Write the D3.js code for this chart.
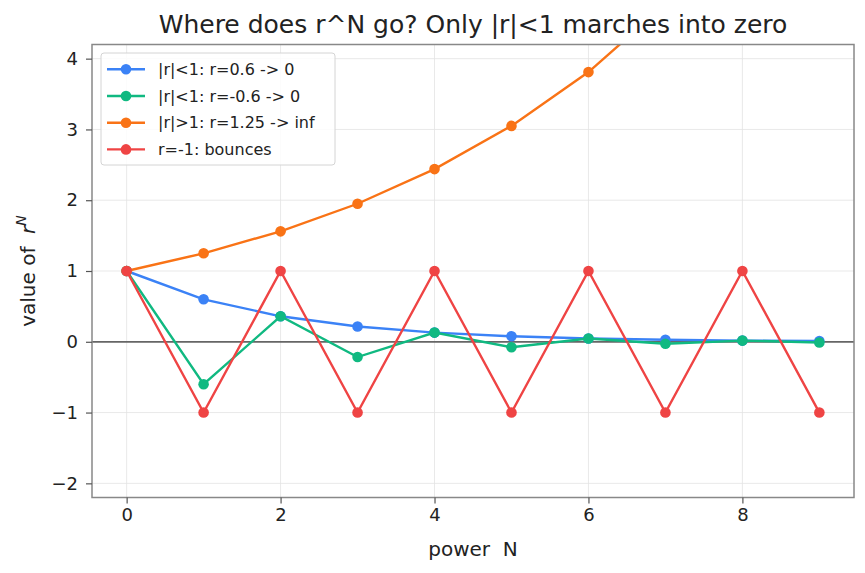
<!doctype html>
<html lang="en">
<head>
<meta charset="utf-8">
<title>Where does r^N go?</title>
<style>
  body { margin: 0; background: #fff; }
  text { font-family: "DejaVu Sans", sans-serif; fill: #222; }
</style>
</head>
<body>
<div id="mychart"></div>
<script src="https://d3js.org/d3.v7.min.js"></script>
<script>
var width = 865;
var height = 573;
var margin = {top: 44.5, right: 11, bottom: 75.5, left: 92};

// powers N
var powers = [0, 1, 2, 3, 4, 5, 6, 7, 8, 9];
// values
var shrinkPos = [1, 0.6, 0.36, 0.216, 0.13, 0.078, 0.047, 0.028, 0.017, 0.01];
var shrinkNeg = [1, -0.6, 0.36, -0.216, 0.13, -0.078, 0.047, -0.028, 0.017, -0.01];
var grow = [1, 1.25, 1.56, 1.95, 2.44, 3.05, 3.81, 4.77, 5.96, 7.45];
var bounce = [1, -1, 1, -1, 1, -1, 1, -1, 1, -1];

var seriesNames = ["|r|<1: r=0.6 -> 0", "|r|<1: r=-0.6 -> 0", "|r|>1: r=1.25 -> inf", "r=-1: bounces"];
var seriesColors = ["#3b82f6", "#10b981", "#f97316", "#ef4444"];
var seriesValues = [shrinkPos, shrinkNeg, grow, bounce];

var xTicks = [0, 2, 4, 6, 8];
var yTicks = [-2, -1, 0, 1, 2, 3, 4];

var svg = d3.select("#mychart").append("svg")
  .attr("width", width)
  .attr("height", height);

var x = d3.scaleLinear()
  .domain([-0.45, 9.45])
  .range([margin.left, width - margin.right]);

var y = d3.scaleLinear()
  .domain([-2.2, 4.2])
  .range([height - margin.bottom, margin.top]);

// grid
svg.append("g").selectAll("line").data(xTicks).enter().append("line")
  .attr("x1", function(d) { return x(d); })
  .attr("x2", function(d) { return x(d); })
  .attr("y1", margin.top)
  .attr("y2", height - margin.bottom)
  .attr("stroke", "#e3e3e3")
  .attr("stroke-width", 0.8);
svg.append("g").selectAll("line").data(yTicks).enter().append("line")
  .attr("x1", margin.left)
  .attr("x2", width - margin.right)
  .attr("y1", function(d) { return y(d); })
  .attr("y2", function(d) { return y(d); })
  .attr("stroke", "#e3e3e3")
  .attr("stroke-width", 0.8);

svg.append("clipPath").attr("id", "plotclip")
  .append("rect")
  .attr("x", margin.left)
  .attr("y", margin.top)
  .attr("width", width - margin.left - margin.right)
  .attr("height", height - margin.top - margin.bottom);

// zero line
svg.append("line")
  .attr("x1", margin.left)
  .attr("x2", width - margin.right)
  .attr("y1", y(0))
  .attr("y2", y(0))
  .attr("stroke", "#666")
  .attr("stroke-width", 1.7);

var line = d3.line()
  .x(function(d, i) { return x(powers[i]); })
  .y(function(d) { return y(d); });

var plot = svg.append("g").attr("clip-path", "url(#plotclip)");

seriesValues.forEach(function(vals, k) {
  plot.append("path")
    .datum(vals)
    .attr("d", line)
    .attr("fill", "none")
    .attr("stroke", seriesColors[k])
    .attr("stroke-width", 2.4);
  plot.selectAll(".pt" + k).data(vals).enter()
    .append("circle")
    .attr("class", "pt" + k)
    .attr("r", 5.3)
    .attr("cx", function(d, i) { return x(powers[i]); })
    .attr("cy", function(d) { return y(d); })
    .attr("fill", seriesColors[k]);
});

// frame
svg.append("rect")
  .attr("x", margin.left)
  .attr("y", margin.top)
  .attr("width", width - margin.left - margin.right)
  .attr("height", height - margin.top - margin.bottom)
  .attr("fill", "none")
  .attr("stroke", "#888")
  .attr("stroke-width", 1.5);

// axes
var fmt = function(d) { return d < 0 ? "\u2212" + Math.abs(d) : String(d); };

var xAxis = svg.append("g")
  .attr("transform", "translate(0," + (height - margin.bottom) + ")")
  .call(d3.axisBottom(x).tickValues(xTicks).tickSize(6).tickPadding(5).tickFormat(fmt));
var yAxis = svg.append("g")
  .attr("transform", "translate(" + margin.left + ",0)")
  .call(d3.axisLeft(y).tickValues(yTicks).tickSize(6).tickPadding(8).tickFormat(fmt));

[xAxis, yAxis].forEach(function(a) {
  a.select(".domain").remove();
  a.selectAll(".tick line").attr("stroke", "#555").attr("stroke-width", 1.2);
  a.selectAll(".tick text").style("font-size", "18px").attr("fill", "#222");
});

// title and labels
svg.append("text")
  .attr("x", (margin.left + width - margin.right) / 2)
  .attr("y", 33)
  .attr("text-anchor", "middle")
  .style("font-size", "25px")
  .text("Where does r^N go? Only |r|<1 marches into zero");

svg.append("text")
  .attr("x", (margin.left + width - margin.right) / 2)
  .attr("y", 556)
  .attr("text-anchor", "middle")
  .style("font-size", "20px")
  .attr("xml:space", "preserve")
  .text("power  N");

var yl = svg.append("text")
  .attr("transform", "translate(35," + ((margin.top + height - margin.bottom) / 2) + ") rotate(-90)")
  .attr("text-anchor", "middle")
  .attr("xml:space", "preserve")
  .style("font-size", "20px");
yl.append("tspan").text("value of  ");
yl.append("tspan").text("r").style("font-style", "italic");
yl.append("tspan").text("N").style("font-style", "italic").style("font-size", "14px").attr("dy", -9);

// legend
var legend = svg.append("g");
legend.append("rect")
  .attr("x", 101)
  .attr("y", 53)
  .attr("width", 234)
  .attr("height", 112)
  .attr("rx", 3)
  .attr("fill", "#fff")
  .attr("fill-opacity", 0.85)
  .attr("stroke", "#d4d4d4")
  .attr("stroke-width", 1);

var rows = legend.selectAll("g.row").data(seriesNames).enter().append("g")
  .attr("class", "row")
  .attr("transform", function(d, i) { return "translate(0," + (69.3 + i * 26.7) + ")"; });
rows.append("line")
  .attr("x1", 107).attr("x2", 145)
  .attr("stroke", function(d, i) { return seriesColors[i]; })
  .attr("stroke-width", 2.4);
rows.append("circle")
  .attr("cx", 126).attr("r", 5.3)
  .attr("fill", function(d, i) { return seriesColors[i]; });
rows.append("text")
  .attr("x", 158)
  .attr("dy", "0.35em")
  .style("font-size", "16px")
  .text(function(d) { return d; });
</script>
</body>
</html>
